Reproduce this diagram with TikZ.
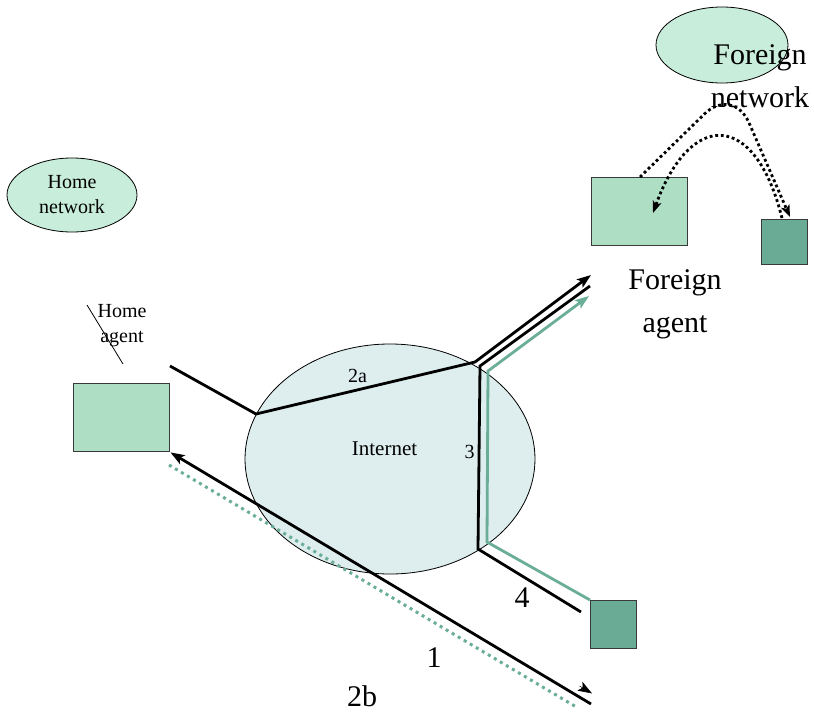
\documentclass[tikz,border=0pt]{standalone}
\usepackage{fontspec}
\setmainfont{Liberation Serif}
\usetikzlibrary{arrows.meta,shapes.geometric}
\definecolor{netfill}{HTML}{C8EEDB}
\definecolor{boxfill}{HTML}{AEDFC4}
\definecolor{mobfill}{HTML}{6AAB96}
\definecolor{inetfill}{HTML}{DEEDEE}
\definecolor{greenline}{HTML}{6AAE98}
\definecolor{boxedge}{HTML}{3A3A3A}
\tikzset{
  netell/.style={ellipse, draw=black, line width=0.8pt, fill=netfill, inner sep=0pt},
  agentbox/.style={rectangle, draw=boxedge, line width=1.4pt, fill=boxfill, inner sep=0pt, anchor=north west},
  mobbox/.style={rectangle, draw=boxedge, line width=1.4pt, fill=mobfill, inner sep=0pt, anchor=north west},
  bigtxt/.style={font=\fontsize{30}{43}\selectfont, align=center, inner sep=0pt},
  smalltxt/.style={font=\fontsize{20}{25}\selectfont, align=center, inner sep=0pt},
  blackpath/.style={line width=2.8pt, black, line join=miter},
  greenpath/.style={line width=2.8pt, greenline},
  dotpath/.style={line width=2.8pt, dash pattern=on 2.8pt off 2.8pt, black},
  greendot/.style={line width=3pt, dash pattern=on 3pt off 4pt, greenline},
  bigtip/.style={-{Stealth[length=14pt,width=10pt,inset=3pt]}},
  dottip/.style={-{Stealth[length=12pt,width=9pt,inset=3pt]}},
}
\begin{document}
\begin{tikzpicture}[x=1pt,y=-1pt]
\useasboundingbox (0,0) rectangle (814,712);
% Internet
\node[ellipse, draw=black, line width=0.8pt, fill=inetfill, minimum width=290pt, minimum height=230pt, inner sep=0pt] (inet) at (390,459) {};
\node[font=\fontsize{21}{25}\selectfont, inner sep=0pt, anchor=base] (inettxt) at (384.5,455) {Internet};
% Home network
\node[netell, minimum width=130pt, minimum height=74pt, font=\fontsize{20}{25}\selectfont, align=center] (hnet) at (72,195) {Home\\network};
% Foreign network
\node[netell, minimum width=132pt, minimum height=76pt] (fnet) at (722,45) {};
\node[bigtxt] (fnettxt) at (760,76) {Foreign\\network};
% Home agent
\node[agentbox, minimum width=96pt, minimum height=68pt] (ha) at (73,383) {};
\node[smalltxt] (hatxt) at (122,326) {Home\\agent};
\coordinate (slA) at (87,305);
\coordinate (slB) at (123,364);
\draw[line width=0.8pt] (slA) -- (slB);
% Foreign agent
\node[agentbox, minimum width=96pt, minimum height=68pt] (fa) at (591,177) {};
\node[bigtxt] (fatxt) at (675,304.5) {Foreign\\agent};
% Mobile hosts
\node[mobbox, minimum width=46pt, minimum height=45pt] (mh1) at (761,219) {};
\node[mobbox, minimum width=46pt, minimum height=48pt] (mh2) at (590,600) {};
% junction coordinates
\coordinate (a0) at (170,366);
\coordinate (j1) at (256,414);
\coordinate (j2) at (475,362);
\coordinate (a3) at (591,275);
\coordinate (b0) at (590,286);
\coordinate (j3) at (480,366);
\coordinate (j4) at (478,549);
\coordinate (b3) at (581,612);
\coordinate (c0) at (589,296);
\coordinate (j5) at (488,371);
\coordinate (j6) at (487,542);
% path 2a
\draw[blackpath, bigtip] (a0) -- (j1) -- (j2) -- (a3);
% path 3 / 4 black
\draw[blackpath] (b0) -- (j3) -- (j4) -- (b3);
% green path
\draw[greenpath, bigtip] (mh2.north west) -- (j6) -- (j5) -- (c0);
% line 1 and 2b
\coordinate (l1s) at (591,704);
\coordinate (g0) at (169,465);
\coordinate (g1) at (578,708);
\coordinate (tipA) at (579.5,686);
\coordinate (tipB) at (592,693.4);
\draw[greendot] (g0) -- (g1);
\draw[blackpath, bigtip] (l1s) -- (ha.south east);
\draw[line width=0.5pt, bigtip] (tipA) -- (tipB);
% dotted curves in foreign network
\coordinate (fa1) at (640,177);
\coordinate (pk1) at (733,86);
\coordinate (mh1a) at (790,217);
\draw[dotpath, dottip, rounded corners=40pt] (fa1) -- (pk1) -- (mh1a);
\coordinate (mh1b) at (782,218);
\coordinate (fa2) at (653,213);
\draw[dotpath, dottip] (mh1b) .. controls (755,110) and (690,110) .. (fa2);
% labels
\node[smalltxt, anchor=base] (l2a) at (357.5,382) {2a};
\node[smalltxt, anchor=base] (l3) at (469.5,458) {3};
\node[bigtxt, anchor=base] (l4) at (522,607) {4};
\node[bigtxt, anchor=base] (l1) at (434,667) {1};
\node[bigtxt, anchor=base] (l2b) at (362,706) {2b};
\end{tikzpicture}
\end{document}
